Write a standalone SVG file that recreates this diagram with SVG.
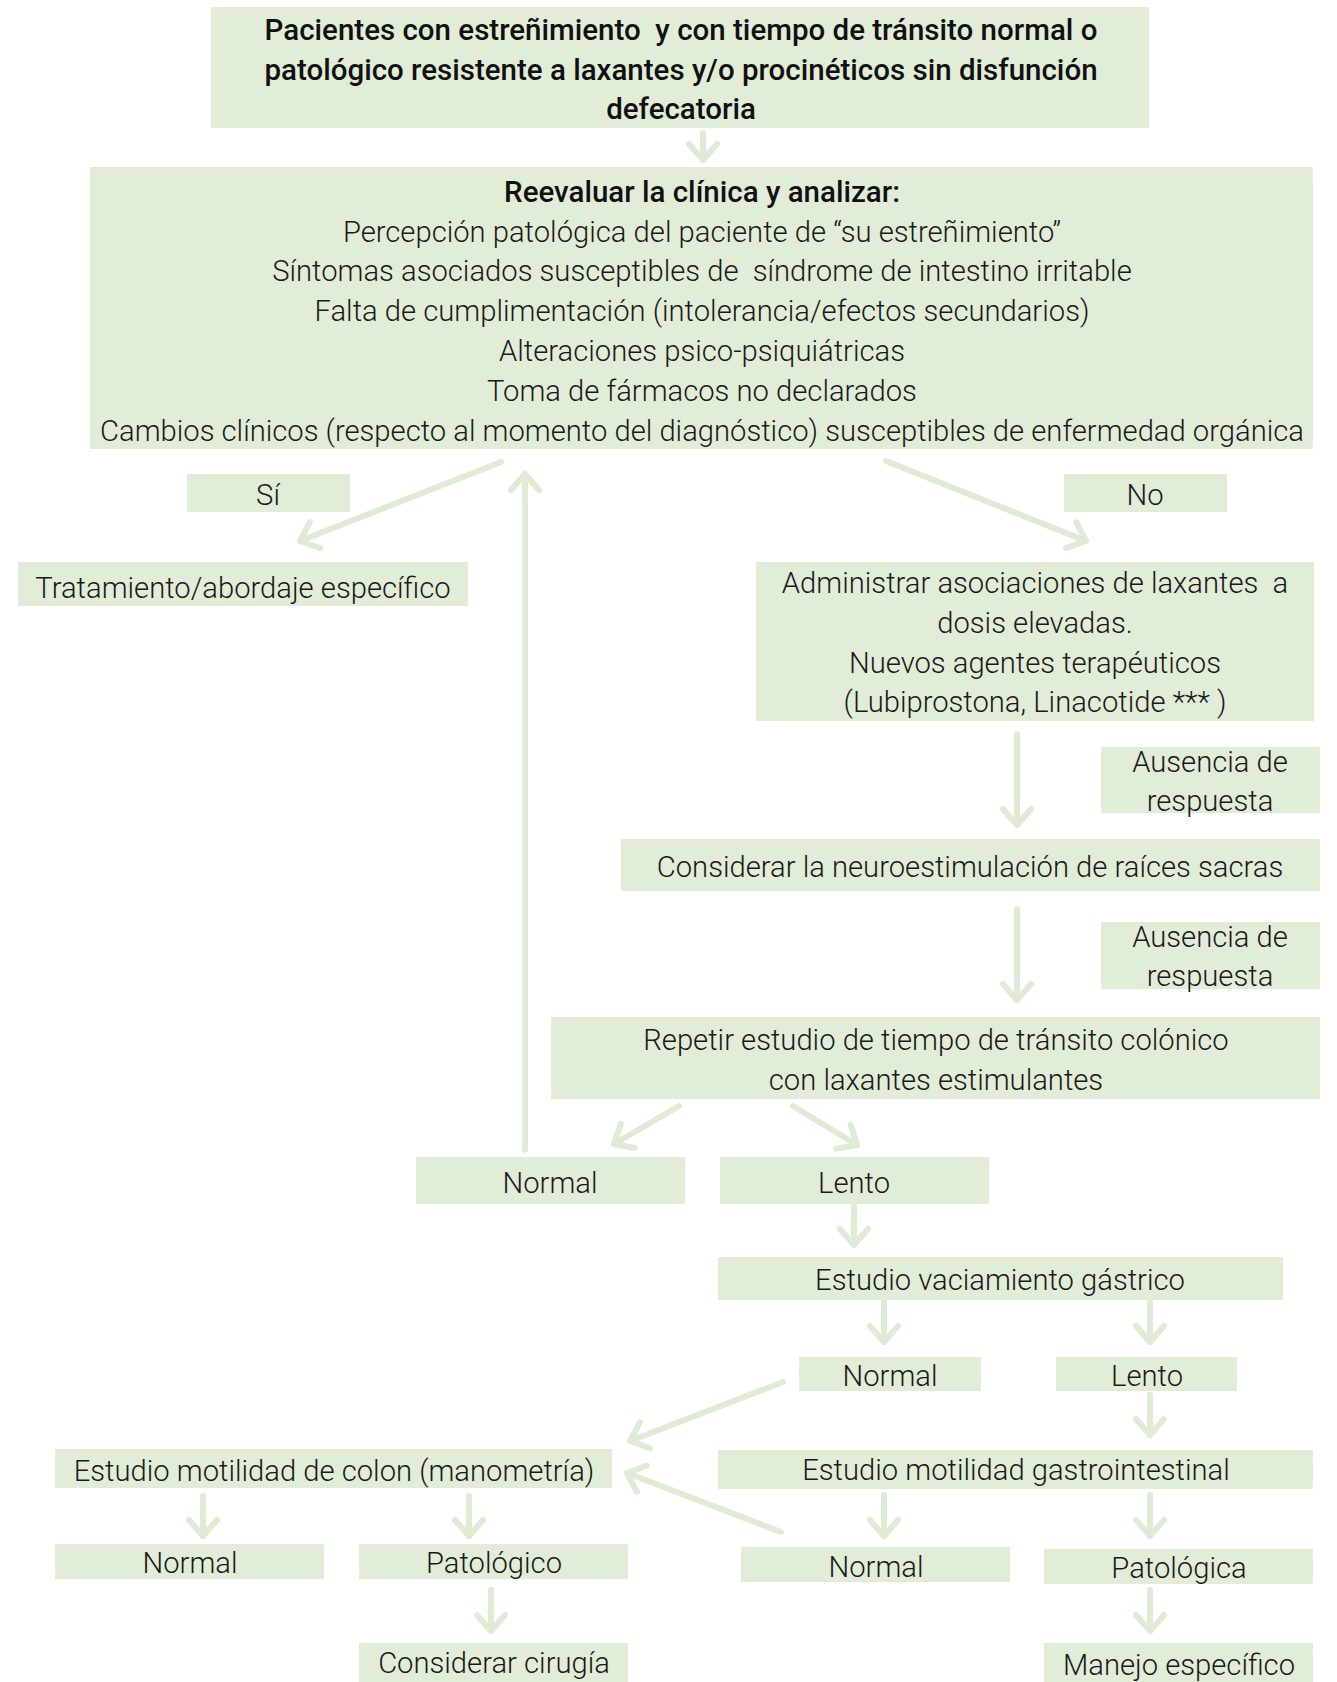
<svg xmlns="http://www.w3.org/2000/svg" width="1337" height="1682" viewBox="0 0 1337 1682">
<style>
  .box { fill: #e2edd8; }
  .t { font-family: Roboto, "Liberation Sans", sans-serif; font-weight: 300; font-size: 29.2px; fill: #1a1a1a; text-anchor: middle; white-space: pre; }
  .b { font-family: Roboto, "Liberation Sans", sans-serif; font-weight: 500; font-size: 29.5px; fill: #111; text-anchor: middle; white-space: pre; }
  .c { stroke: #e0ebd6; stroke-width: 6; stroke-linecap: round; fill: none; marker-end: url(#chev); }
</style>
<defs>
  <marker id="chev" markerUnits="userSpaceOnUse" viewBox="-22 -20 28 40" refX="0" refY="0" markerWidth="28" markerHeight="40" orient="auto">
    <path d="M-16,-14 L0,0 L-16,14" fill="none" stroke="#e0ebd6" stroke-width="6" stroke-linecap="round" stroke-linejoin="round"/>
  </marker>
</defs>
<rect width="1337" height="1682" fill="#ffffff"/>

<g id="connectors">
  <line class="c" x1="703" y1="133" x2="703" y2="160"/>
  <line class="c" x1="501" y1="462" x2="300" y2="541"/>
  <line class="c" x1="886" y1="461" x2="1086" y2="541"/>
  <line class="c" x1="1017" y1="734" x2="1017" y2="825"/>
  <line class="c" x1="1017" y1="909" x2="1017" y2="1000"/>
  <line class="c" x1="679" y1="1106" x2="614" y2="1144"/>
  <line class="c" x1="793" y1="1106" x2="857" y2="1145"/>
  <line class="c" x1="525" y1="1150" x2="525" y2="474"/>
  <line class="c" x1="854" y1="1206" x2="854" y2="1245"/>
  <line class="c" x1="884" y1="1302" x2="884" y2="1342"/>
  <line class="c" x1="1150" y1="1302" x2="1150" y2="1342"/>
  <line class="c" x1="1150" y1="1395" x2="1150" y2="1435"/>
  <line class="c" x1="783" y1="1382" x2="630" y2="1441"/>
  <line class="c" x1="781" y1="1532" x2="627" y2="1473"/>
  <line class="c" x1="203" y1="1496" x2="203" y2="1536"/>
  <line class="c" x1="469" y1="1496" x2="469" y2="1536"/>
  <line class="c" x1="491" y1="1590" x2="491" y2="1631"/>
  <line class="c" x1="884" y1="1495" x2="884" y2="1536"/>
  <line class="c" x1="1150" y1="1495" x2="1150" y2="1536"/>
  <line class="c" x1="1150" y1="1590" x2="1150" y2="1631"/>
</g>

<g id="n-pacientes">
  <rect class="box" x="211" y="7" width="938" height="121"/>
  <text class="b" x="681" y="40">Pacientes con estreñimiento  y con tiempo de tránsito normal o</text>
  <text class="b" x="681" y="80">patológico resistente a laxantes y/o procinéticos sin disfunción</text>
  <text class="b" x="681" y="119">defecatoria</text>
</g>

<g id="n-reevaluar">
  <rect class="box" x="90" y="167" width="1223" height="282"/>
  <text class="b" x="702" y="202">Reevaluar la clínica y analizar:</text>
  <text class="t" x="702" y="242">Percepción patológica del paciente de “su estreñimiento”</text>
  <text class="t" x="702" y="281">Síntomas asociados susceptibles de  síndrome de intestino irritable</text>
  <text class="t" x="702" y="321">Falta de cumplimentación (intolerancia/efectos secundarios)</text>
  <text class="t" x="702" y="361">Alteraciones psico-psiquiátricas</text>
  <text class="t" x="702" y="401">Toma de fármacos no declarados</text>
  <text class="t" x="702" y="441">Cambios clínicos (respecto al momento del diagnóstico) susceptibles de enfermedad orgánica</text>
</g>

<g id="n-si">
  <rect class="box" x="187" y="474" width="163" height="38"/>
  <text class="t" x="268" y="505">Sí</text>
</g>

<g id="n-no">
  <rect class="box" x="1064" y="474" width="163" height="38"/>
  <text class="t" x="1145" y="505">No</text>
</g>

<g id="n-tratamiento">
  <rect class="box" x="18" y="562" width="450" height="44"/>
  <text class="t" x="243" y="598">Tratamiento/abordaje específico</text>
</g>

<g id="n-administrar">
  <rect class="box" x="756" y="562" width="558" height="159"/>
  <text class="t" x="1035" y="593">Administrar asociaciones de laxantes  a</text>
  <text class="t" x="1035" y="633">dosis elevadas.</text>
  <text class="t" x="1035" y="673">Nuevos agentes terapéuticos</text>
  <text class="t" x="1035" y="712">(Lubiprostona, Linacotide *** )</text>
</g>

<g id="n-ausencia1">
  <rect class="box" x="1101" y="747" width="219" height="66"/>
  <text class="t" x="1210" y="772">Ausencia de</text>
  <text class="t" x="1210" y="811">respuesta</text>
</g>

<g id="n-neuro">
  <rect class="box" x="621" y="839" width="699" height="52"/>
  <text class="t" x="970" y="877">Considerar la neuroestimulación de raíces sacras</text>
</g>

<g id="n-ausencia2">
  <rect class="box" x="1101" y="922" width="219" height="67"/>
  <text class="t" x="1210" y="947">Ausencia de</text>
  <text class="t" x="1210" y="986">respuesta</text>
</g>

<g id="n-repetir">
  <rect class="box" x="551" y="1017" width="769" height="82"/>
  <text class="t" x="936" y="1050">Repetir estudio de tiempo de tránsito colónico</text>
  <text class="t" x="936" y="1090">con laxantes estimulantes</text>
</g>

<g id="n-normal1">
  <rect class="box" x="416" y="1157" width="269" height="47"/>
  <text class="t" x="550" y="1193">Normal</text>
</g>

<g id="n-lento1">
  <rect class="box" x="720" y="1157" width="269" height="47"/>
  <text class="t" x="854" y="1193">Lento</text>
</g>

<g id="n-vaciamiento">
  <rect class="box" x="718" y="1257" width="565" height="43"/>
  <text class="t" x="1000" y="1290">Estudio vaciamiento gástrico</text>
</g>

<g id="n-normal2">
  <rect class="box" x="799" y="1357" width="182" height="34"/>
  <text class="t" x="890" y="1386">Normal</text>
</g>

<g id="n-lento2">
  <rect class="box" x="1056" y="1357" width="181" height="34"/>
  <text class="t" x="1147" y="1386">Lento</text>
</g>

<g id="n-colon">
  <rect class="box" x="55" y="1449" width="557" height="39"/>
  <text class="t" x="334" y="1481">Estudio motilidad de colon (manometría)</text>
</g>

<g id="n-gastro">
  <rect class="box" x="718" y="1450" width="595" height="39"/>
  <text class="t" x="1016" y="1480">Estudio motilidad gastrointestinal</text>
</g>

<g id="n-normal3">
  <rect class="box" x="55" y="1544" width="269" height="35"/>
  <text class="t" x="190" y="1573">Normal</text>
</g>

<g id="n-patologico">
  <rect class="box" x="359" y="1544" width="269" height="35"/>
  <text class="t" x="494" y="1573">Patológico</text>
</g>

<g id="n-normal4">
  <rect class="box" x="741" y="1547" width="269" height="35"/>
  <text class="t" x="876" y="1577">Normal</text>
</g>

<g id="n-patologica">
  <rect class="box" x="1044" y="1549" width="269" height="35"/>
  <text class="t" x="1179" y="1578">Patológica</text>
</g>

<g id="n-cirugia">
  <rect class="box" x="359" y="1643" width="269" height="39"/>
  <text class="t" x="494" y="1673">Considerar cirugía</text>
</g>

<g id="n-manejo">
  <rect class="box" x="1044" y="1643" width="269" height="39"/>
  <text class="t" x="1179" y="1675">Manejo específico</text>
</g>
</svg>
